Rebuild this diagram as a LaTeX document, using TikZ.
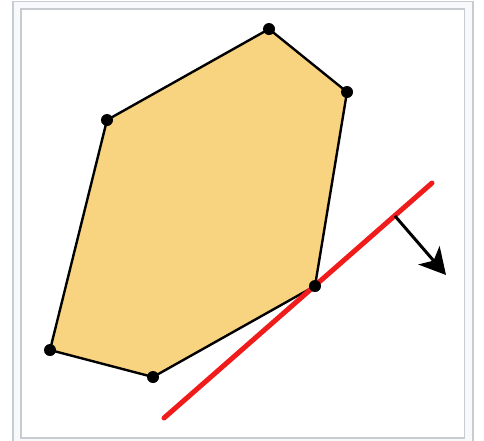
\documentclass[tikz,border=0pt]{standalone}
\usetikzlibrary{arrows.meta}
\definecolor{frameline}{RGB}{200,204,209}
\definecolor{frameback}{RGB}{248,249,250}
\definecolor{polyfill}{RGB}{248,211,128}
\definecolor{redline}{RGB}{240,28,28}
\tikzset{
  vertex/.style={circle,fill=black,inner sep=0pt,minimum size=12pt},
  edge/.style={line width=2.4pt,line join=round},
  support/.style={line width=5pt,redline,line cap=round},
  normalarrow/.style={line width=3pt,-{Stealth[length=26pt,width=28pt,inset=7pt]}}
}
\begin{document}
\begin{tikzpicture}[x=1pt,y=-1pt]
\useasboundingbox (0,0) rectangle (484,440);
\draw[frameline,fill=frameback,line width=1.5pt] (13,1.5) rectangle (473,450);
\draw[frameline,fill=white,line width=1.5pt] (21,9) rectangle (464.5,438);
\coordinate (p1) at (269,29);
\coordinate (p2) at (347,92);
\coordinate (p3) at (315,286);
\coordinate (p4) at (153,377);
\coordinate (p5) at (50,350);
\coordinate (p6) at (107,120);
\draw[edge,fill=polyfill] (p1) -- (p2) -- (p3) -- (p4) -- (p5) -- (p6) -- cycle;
\coordinate (r1) at (164,418);
\coordinate (r2) at (432,183);
\draw[support] (r1) -- (r2);
\coordinate (a1) at (395,216);
\coordinate (a2) at (446,275);
\draw[normalarrow] (a1) -- (a2);
\foreach \p in {p1,p2,p3,p4,p5,p6} \node[vertex] (v\p) at (\p) {};
\end{tikzpicture}
\end{document}
